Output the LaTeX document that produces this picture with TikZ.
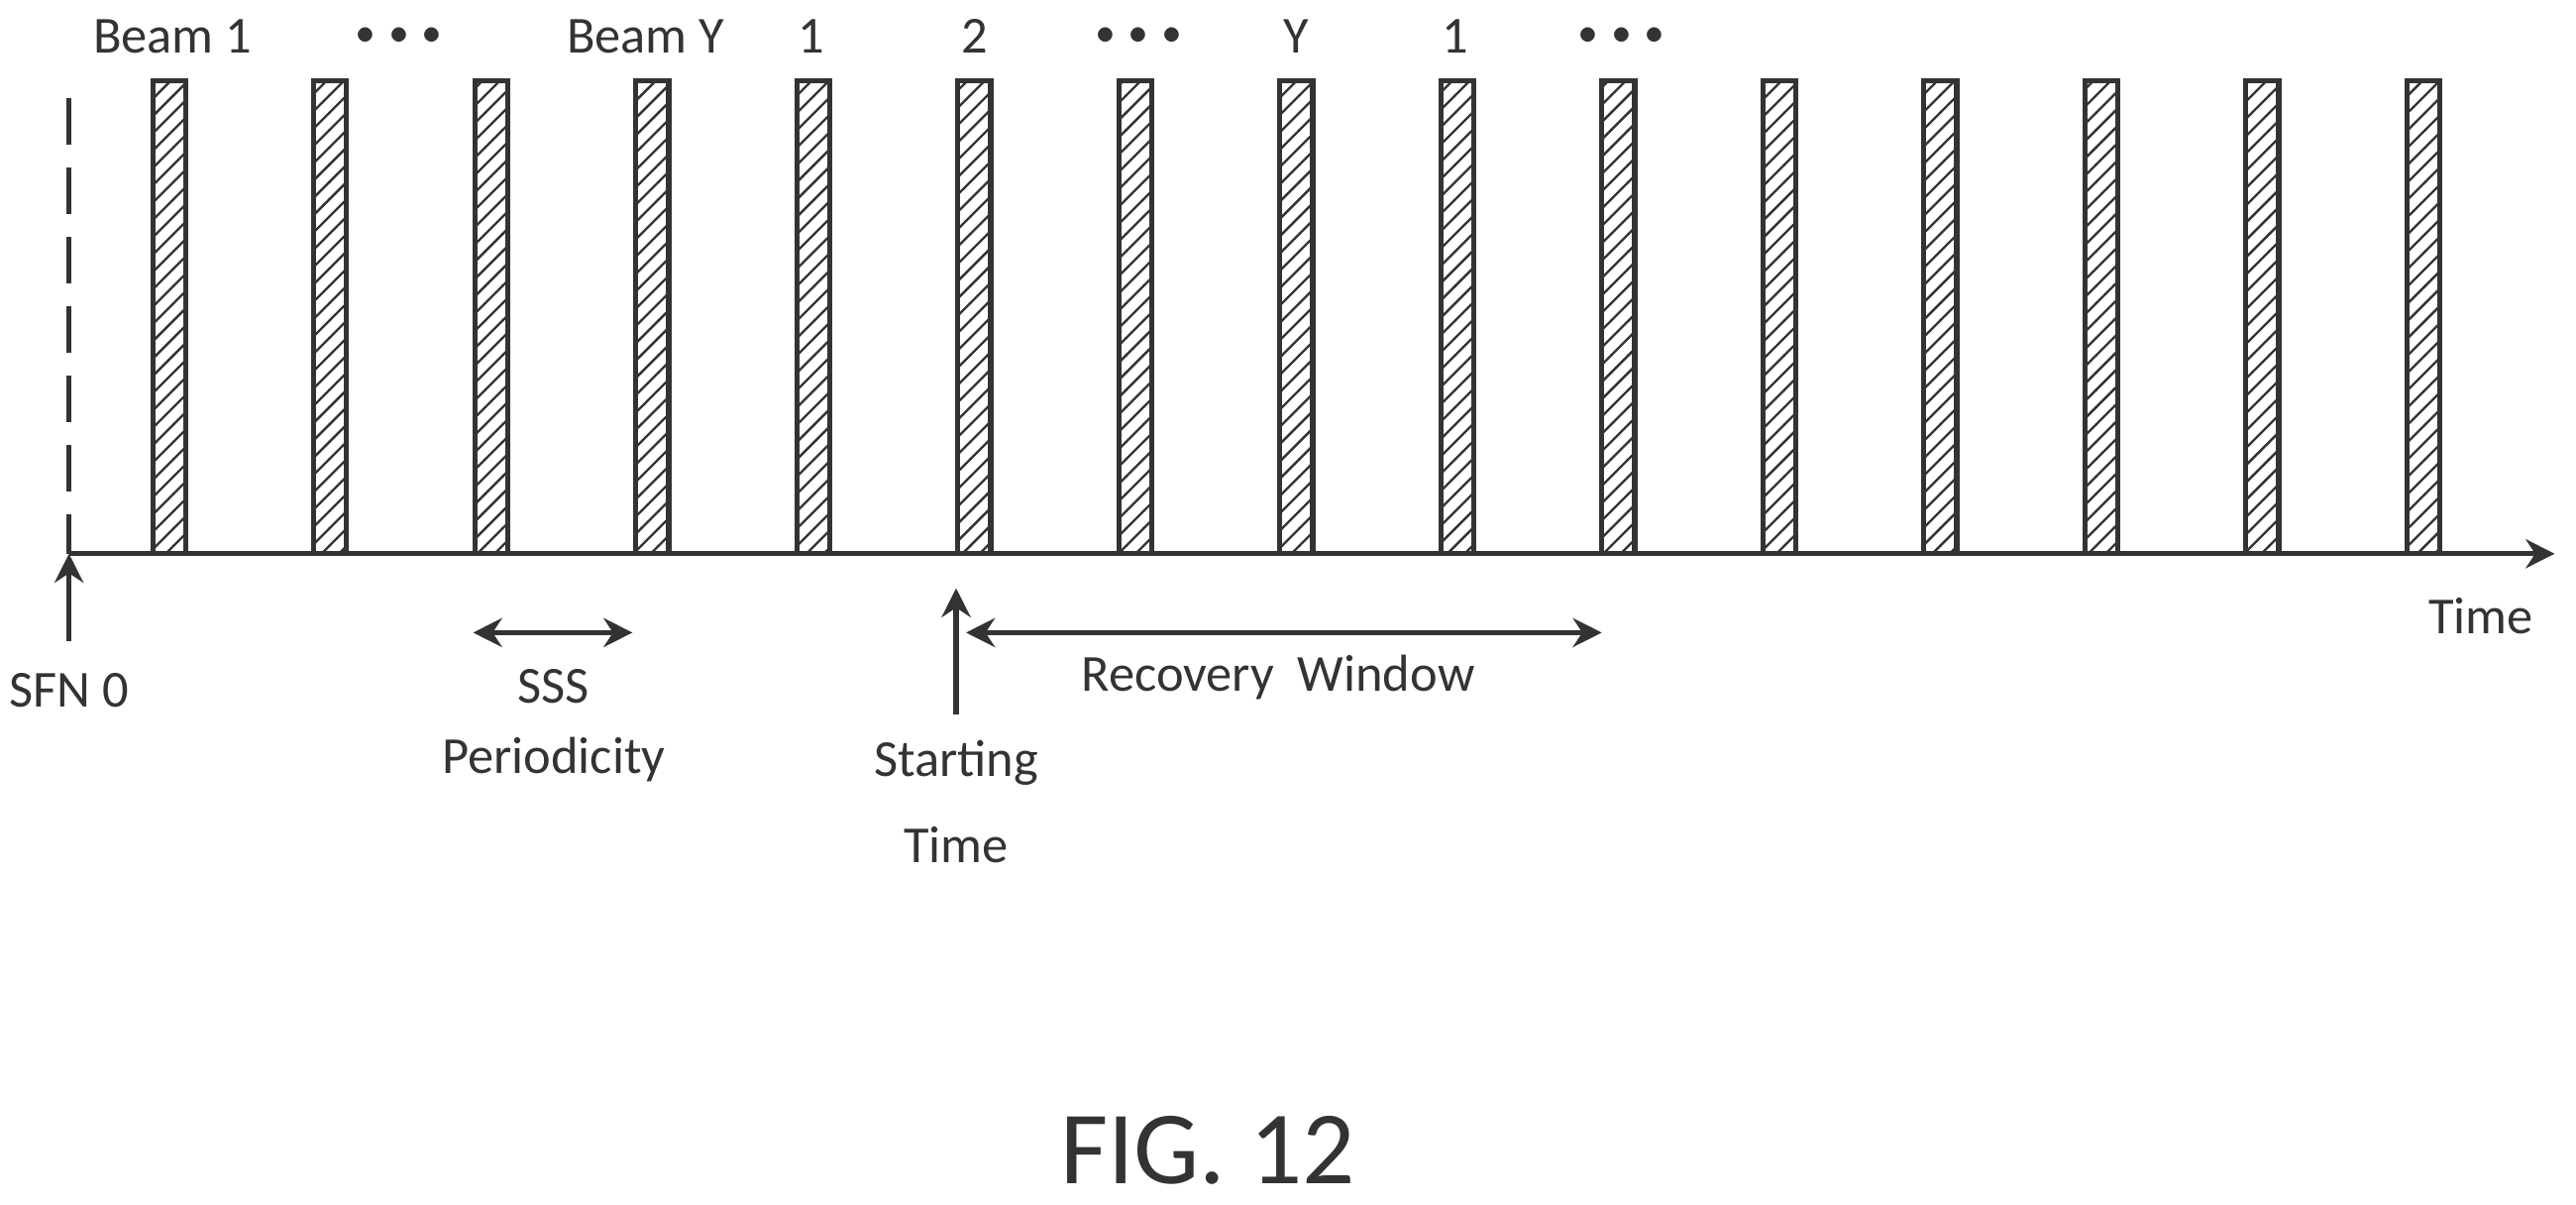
\documentclass[tikz,border=0pt]{standalone}
\usepackage{fontspec}
\setmainfont{Carlito}
\usetikzlibrary{patterns,arrows.meta}
\tikzset{
  slot/.style={draw=black!80,line width=0.9pt,pattern=north east lines,pattern color=black!80},
  lbl/.style={font=\fontsize{9}{11}\selectfont,text=black!80},
  arr/.style={-{Stealth[length=5pt,width=5pt]},line width=0.9pt,black!80}
}
\newcommand{\tdots}{\scalebox{0.7}{$\bullet\,\bullet\,\bullet$}}
\begin{document}
\begin{tikzpicture}[x=0.1cm,y=-0.1cm]
  \useasboundingbox (0,0) rectangle (156.8,73.3);
  % time axis and SFN 0 marker
  \coordinate (t0) at (4.2,33.7);
  \coordinate (tend) at (155.5,33.7);
  \draw[dash pattern=on 8pt off 4pt,line width=0.9pt,black!80] (4.2,6) -- (t0);
  % beams
  \foreach \i in {0,...,14}
    \draw[slot] (9.3+9.8*\i,4.9) rectangle (11.3+9.8*\i,33.7);
  \draw[arr] (t0) -- (tend);
  \node[lbl] (time) at (151,37.5) {Time};
  % beam labels
  \node[lbl] (b1) at (10.5,2.2) {Beam 1};
  \node[lbl] (d1) at (24.3,2.2) {\tdots};
  \node[lbl] (bY) at (39.3,2.2) {Beam Y};
  \node[lbl] (n1) at (49.4,2.2) {1};
  \node[lbl] (n2) at (59.3,2.2) {2};
  \node[lbl] (d2) at (69.3,2.2) {\tdots};
  \node[lbl] (nY) at (78.9,2.2) {Y};
  \node[lbl] (n1b) at (88.6,2.2) {1};
  \node[lbl] (d3) at (98.7,2.2) {\tdots};
  % SFN 0
  \node[lbl] (sfn) at (4.2,42) {SFN 0};
  \draw[arr] (4.2,39) -- (t0);
  % SSS periodicity
  \coordinate (p1) at (28.8,38.5);
  \coordinate (p2) at (38.5,38.5);
  \draw[arr,{Stealth[length=5pt,width=5pt]}-{Stealth[length=5pt,width=5pt]}] (p1) -- (p2);
  \node[lbl] (sss) at (33.7,41.8) {SSS};
  \node[lbl] (per) at (33.7,46.2) {Periodicity};
  % starting time and recovery window
  \coordinate (st) at (58.2,35.8);
  \node[lbl,align=center] (start) at (58.2,48.8) {Starting\\[4pt]Time};
  \draw[arr] (58.2,43.5) -- (st);
  \coordinate (r1) at (58.8,38.5);
  \coordinate (r2) at (97.5,38.5);
  \draw[arr,{Stealth[length=5pt,width=5pt]}-{Stealth[length=5pt,width=5pt]}] (r1) -- (r2);
  \node[lbl] (rec) at (77.8,41.2) {Recovery~ Window};
  \node[font=\fontsize{18}{22}\selectfont,text=black!80] (fig) at (73.5,70) {FIG. 12};
\end{tikzpicture}
\end{document}
